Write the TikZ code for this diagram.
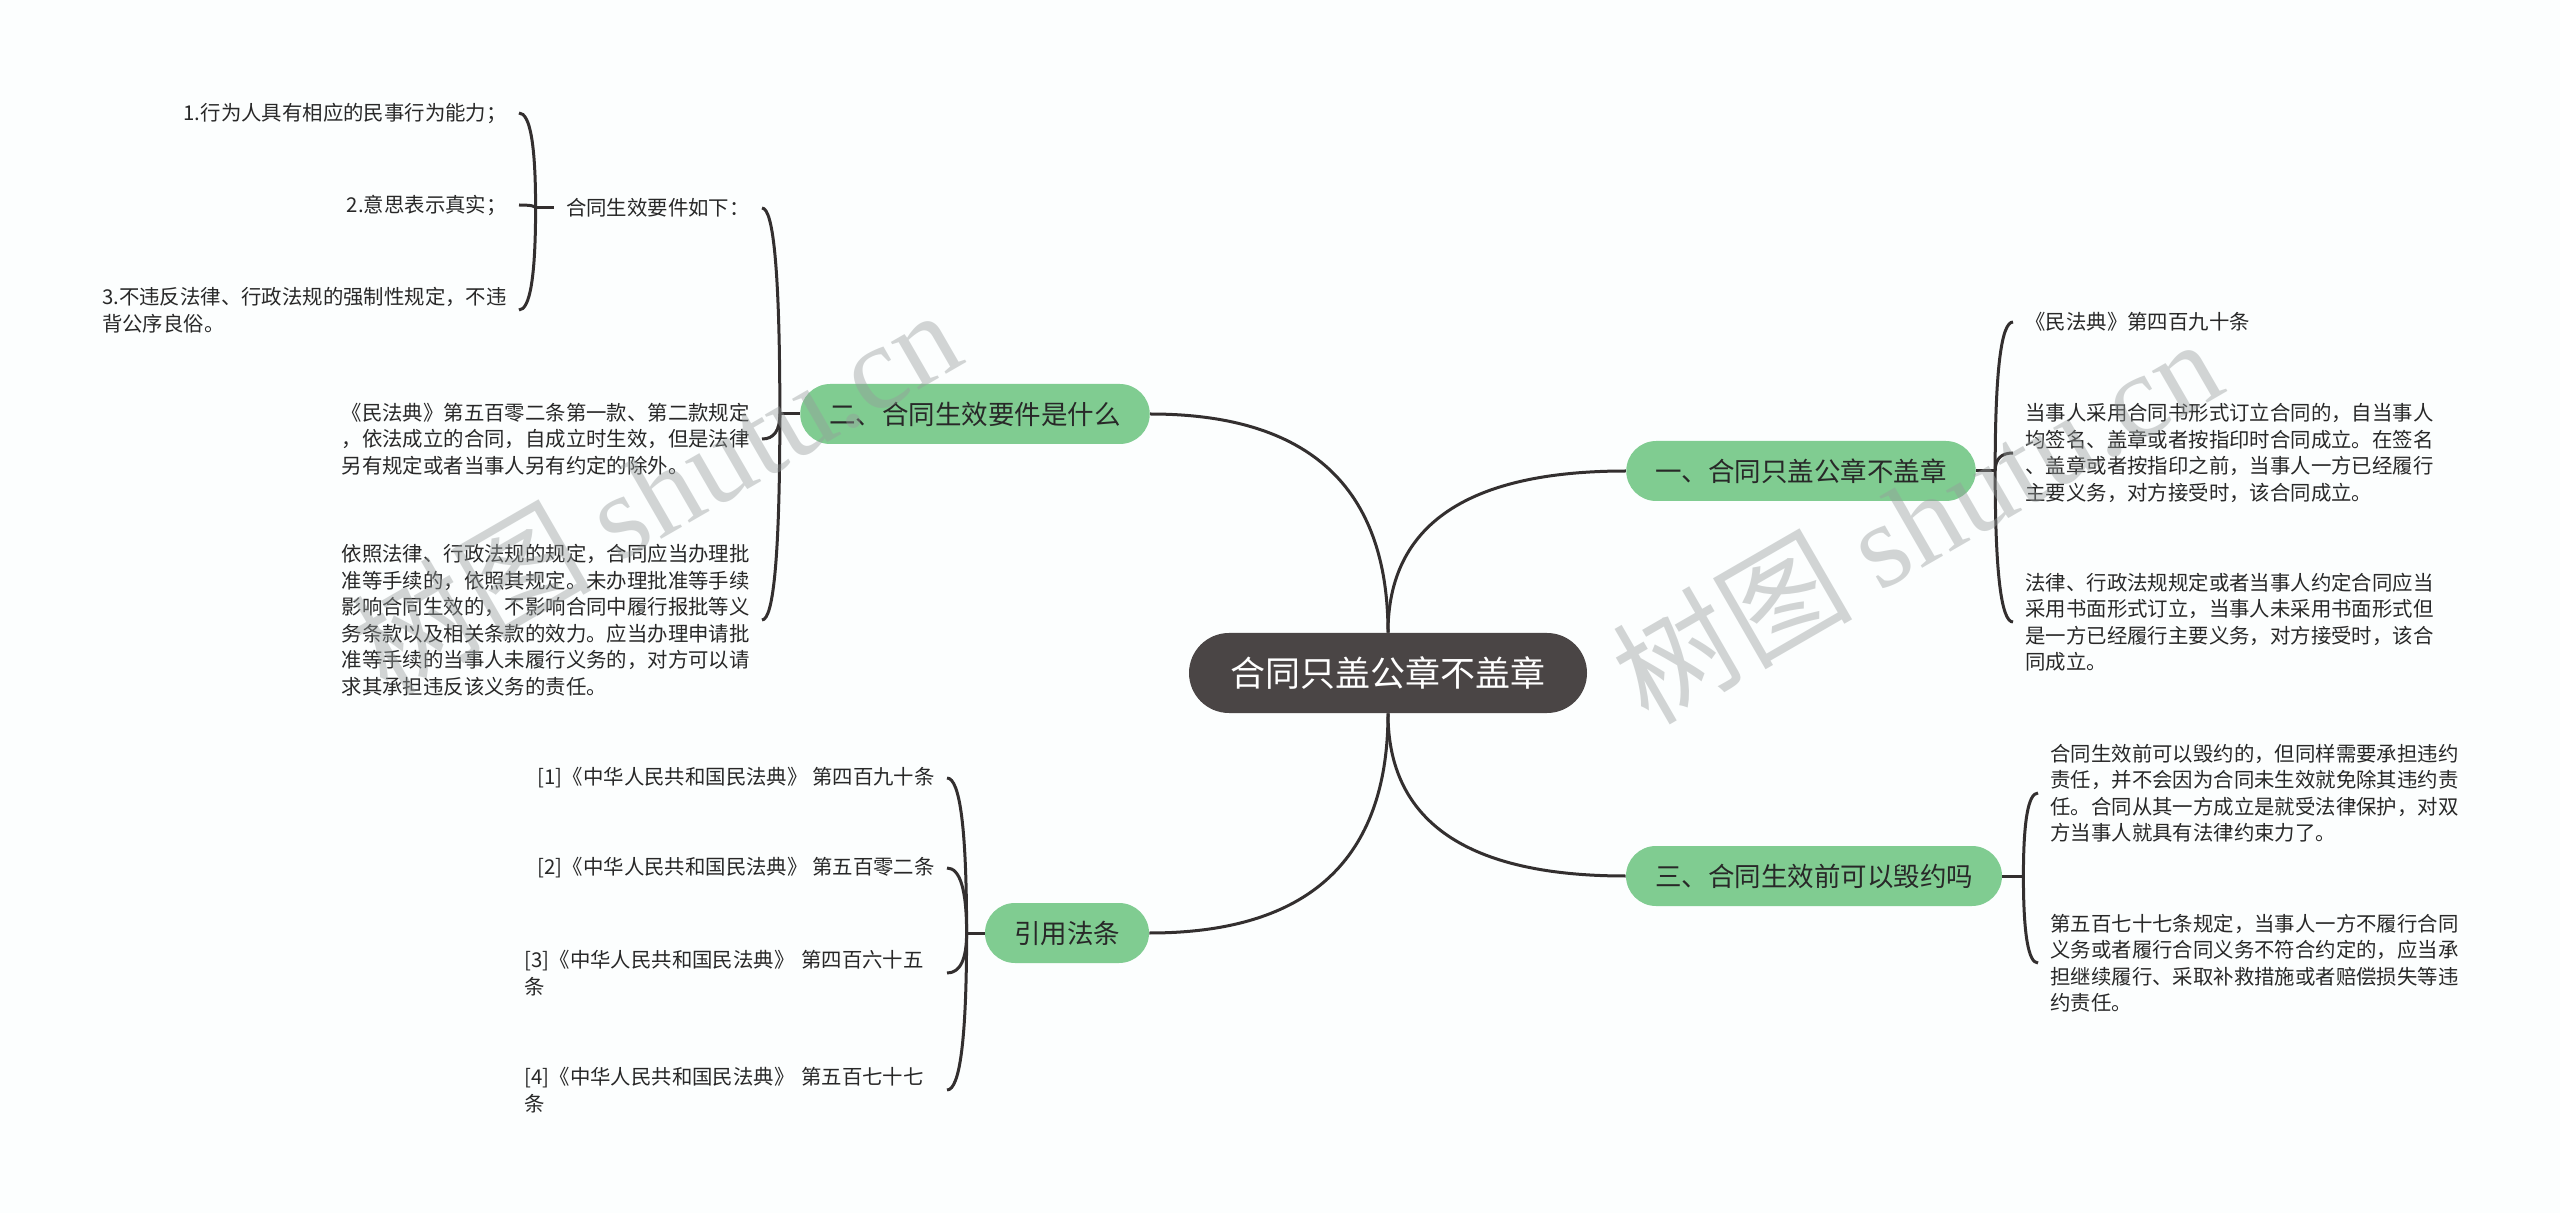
\documentclass[tikz,border=0pt]{standalone}
\usepackage{fontspec}
\setmainfont{Noto Sans CJK SC}
\newfontfamily\wmlatin{Liberation Serif}
\usetikzlibrary{calc}
\definecolor{bgc}{RGB}{252,254,254}
\definecolor{rootc}{RGB}{74,69,69}
\definecolor{greenc}{RGB}{128,204,145}
\definecolor{linec}{RGB}{51,47,47}
\definecolor{txtc}{RGB}{40,40,40}
\definecolor{wmc}{RGB}{150,156,156}
\newcommand\vqdraw[2]{\draw[conn] (#1) .. controls ($(#1)!0.6667!(#1 |- #2)$) and ($(#2)!0.6667!(#1 |- #2)$) .. (#2);}
\begin{document}
\begin{tikzpicture}[x=0.5pt,y=-0.5pt,
  conn/.style={draw=linec,line width=1.5pt},
  rootbox/.style={fill=rootc,rounded corners=20pt,minimum height=40pt,inner xsep=20.75pt,inner ysep=0pt,text=white,font=\fontsize{17.5pt}{20pt}\selectfont},
  branch/.style={fill=greenc,rounded corners=15pt,minimum height=30pt,inner xsep=14.5pt,inner ysep=0pt,text=txtc,font=\fontsize{13.25pt}{16pt}\selectfont},
  leaf/.style={inner xsep=6pt,inner ysep=1pt,align=left,text=txtc,font=\fontsize{10.2pt}{13.25pt}\selectfont},
  wm/.style={rotate=30,text=wmc,opacity=0.42,inner sep=0pt,font=\fontsize{60pt}{66pt}\selectfont},
]
\fill[bgc] (0,0) rectangle (2560,1213);
\useasboundingbox (0,0) rectangle (2560,1213);

% main nodes
\node[rootbox] (root) at (1388,673) {合同只盖公章不盖章};
\node[branch] (b1) at (1801,471) {一、合同只盖公章不盖章};
\node[branch] (b2) at (975,414) {二、合同生效要件是什么};
\node[branch] (b3) at (1814,876) {三、合同生效前可以毁约吗};
\node[branch] (b4) at (1067,933) {引用法条};

% branch 1 leaves
\node[leaf,anchor=west] (c11) at (2013,322) {《民法典》第四百九十条};
\node[leaf,anchor=west] (c12) at (2013,453) {当事人采用合同书形式订立合同的，自当事人\\均签名、盖章或者按指印时合同成立。在签名\\、盖章或者按指印之前，当事人一方已经履行\\主要义务，对方接受时，该合同成立。};
\node[leaf,anchor=west] (c13) at (2013,622) {法律、行政法规规定或者当事人约定合同应当\\采用书面形式订立，当事人未采用书面形式但\\是一方已经履行主要义务，对方接受时，该合\\同成立。};

% branch 2 leaves
\node[leaf,anchor=east] (c21) at (762,208) {合同生效要件如下：};
\node[leaf,anchor=east] (c22) at (762,439) {《民法典》第五百零二条第一款、第二款规定\\，依法成立的合同，自成立时生效，但是法律\\另有规定或者当事人另有约定的除外。};
\node[leaf,anchor=east] (c23) at (762,620) {依照法律、行政法规的规定，合同应当办理批\\准等手续的，依照其规定。未办理批准等手续\\影响合同生效的，不影响合同中履行报批等义\\务条款以及相关条款的效力。应当办理申请批\\准等手续的当事人未履行义务的，对方可以请\\求其承担违反该义务的责任。};
\node[leaf,anchor=east] (c211) at (519,113) {1.行为人具有相应的民事行为能力；};
\node[leaf,anchor=east] (c212) at (519,205) {2.意思表示真实；};
\node[leaf,anchor=east] (c213) at (519,310) {3.不违反法律、行政法规的强制性规定，不违\\背公序良俗。};

% branch 3 leaves
\node[leaf,anchor=west] (c31) at (2038,793) {合同生效前可以毁约的，但同样需要承担违约\\责任，并不会因为合同未生效就免除其违约责\\任。合同从其一方成立是就受法律保护，对双\\方当事人就具有法律约束力了。};
\node[leaf,anchor=west] (c32) at (2038,963) {第五百七十七条规定，当事人一方不履行合同\\义务或者履行合同义务不符合约定的，应当承\\担继续履行、采取补救措施或者赔偿损失等违\\约责任。};

% branch 4 leaves
\node[leaf,anchor=east] (c41) at (947,778) {[1]《中华人民共和国民法典》 第四百九十条};
\node[leaf,anchor=east] (c42) at (947,868) {[2]《中华人民共和国民法典》 第五百零二条};
\node[leaf,anchor=east,text width=205pt] (c43) at (947,973) {[3]《中华人民共和国民法典》 第四百六十五\\条};
\node[leaf,anchor=east,text width=205pt] (c44) at (947,1090) {[4]《中华人民共和国民法典》 第五百七十七\\条};

% main connectors
\vqdraw{root.north}{b1.west}
\vqdraw{root.north}{b2.east}
\vqdraw{root.south}{b3.west}
\vqdraw{root.south}{b4.east}

% bracket junctions
\coordinate (s1) at ($(b1.east)+(19,0)$);
\coordinate (s2) at ($(b2.west)+(-20,0)$);
\coordinate (s21) at ($(c21.west)+(-18,0)$);
\coordinate (s3) at ($(b3.east)+(21,0)$);
\coordinate (s4) at ($(b4.west)+(-18,0)$);
\draw[conn] (b1.east) -- (s1);
\draw[conn] (b2.west) -- (s2);
\draw[conn] (c21.west) -- (s21);
\draw[conn] (b3.east) -- (s3);
\draw[conn] (b4.west) -- (s4);

\vqdraw{s1}{c11.west}
\vqdraw{s1}{c12.west}
\vqdraw{s1}{c13.west}
\vqdraw{s2}{c21.east}
\vqdraw{s2}{c22.east}
\vqdraw{s2}{c23.east}
\vqdraw{s21}{c211.east}
\vqdraw{s21}{c212.east}
\vqdraw{s21}{c213.east}
\vqdraw{s3}{c31.west}
\vqdraw{s3}{c32.west}
\vqdraw{s4}{c41.east}
\vqdraw{s4}{c42.east}
\vqdraw{s4}{c43.east}
\vqdraw{s4}{c44.east}

% watermarks
\node[wm] (wm1) at (655,490) {树图 {\wmlatin shutu.cn}};
\node[wm] (wm2) at (1916,519) {树图 {\wmlatin shutu.cn}};
\end{tikzpicture}
\end{document}
